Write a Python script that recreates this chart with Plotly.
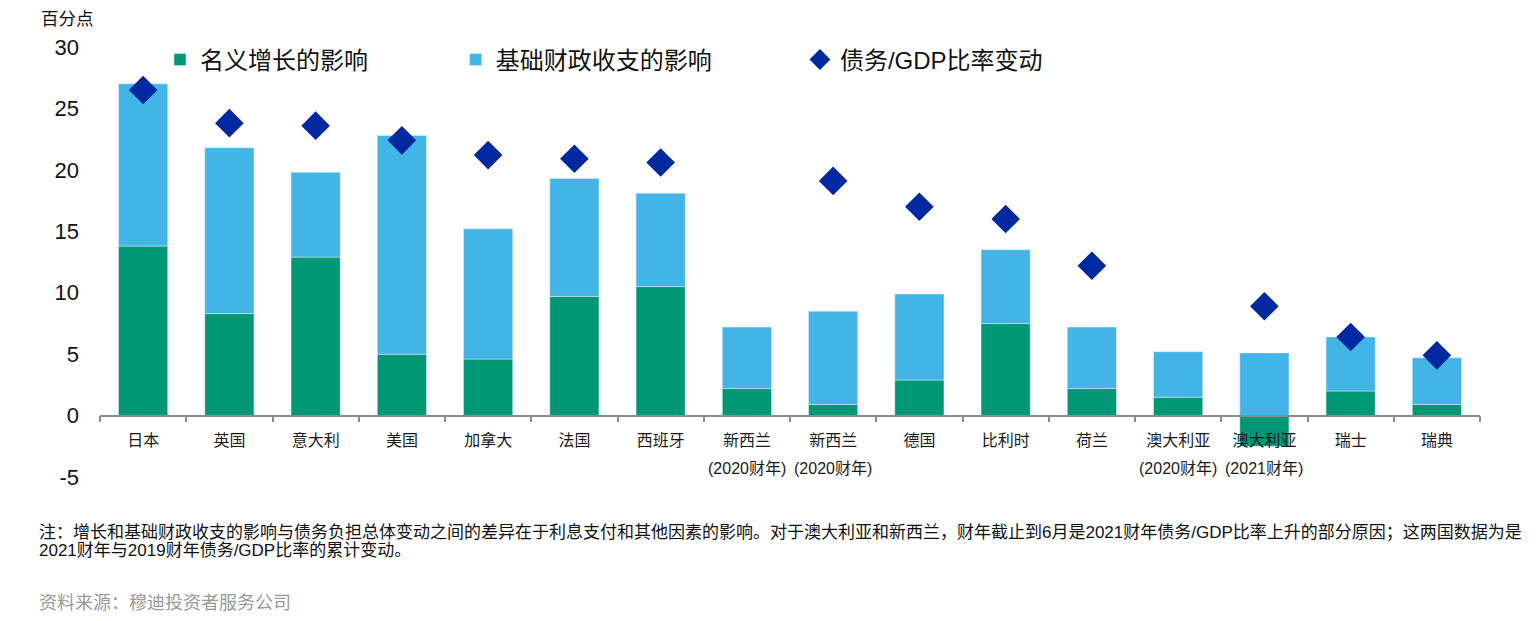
import plotly.graph_objects as go

# Countries (first label line) and the fiscal-year qualifier (second line)
countries = ['日本', '英国', '意大利', '美国', '加拿大', '法国', '西班牙',
             '新西兰', '新西兰', '德国', '比利时', '荷兰',
             '澳大利亚', '澳大利亚', '瑞士', '瑞典']
fiscal_years = ['', '', '', '', '', '', '',
                '(2020财年)', '(2020财年)', '', '', '',
                '(2020财年)', '(2021财年)', '', '']

# percentage points
growth_impact = [13.8, 8.3, 12.9, 5.0, 4.6, 9.7, 10.5, 2.2, 0.9, 2.9,
                 7.5, 2.2, 1.5, -2.5, 2.0, 0.9]
primary_impact = [13.2, 13.5, 6.9, 17.8, 10.6, 9.6, 7.6, 5.0, 7.6, 7.0,
                  6.0, 5.0, 3.7, 5.1, 4.4, 3.8]
debt_change = [26.5, 23.8, 23.6, 22.4, 21.2, 20.9, 20.6, None, 19.1, 17.0,
               16.0, 12.2, None, 8.9, 6.4, 4.9]

y_ticks = [-5, 0, 5, 10, 15, 20, 25, 30]

GREEN = '#009874'
BLUE = '#42B4E6'
NAVY = '#0028A0'
FONT = 'Liberation Sans, Arial, Noto Sans CJK SC, sans-serif'

pos = list(range(len(countries)))
y_min, y_max = y_ticks[0], y_ticks[-1]

fig = go.Figure()

fig.add_trace(go.Bar(
    x=pos, y=growth_impact, name='名义增长的影响',
    marker_color=GREEN, width=0.57, legend='legend'))
fig.add_trace(go.Bar(
    x=pos, y=primary_impact, name='基础财政收支的影响',
    marker_color=BLUE, width=0.57, legend='legend2'))
fig.add_trace(go.Scatter(
    x=pos, y=debt_change, mode='markers', name='债务/GDP比率变动',
    marker=dict(symbol='diamond', size=22, color=NAVY),
    legend='legend3'))

legend_style = dict(orientation='h', yanchor='middle', y=0.97,
                    xanchor='left', font=dict(size=24, color='#111'),
                    bgcolor='rgba(0,0,0,0)')

# second line of the two-line category labels
for p, fy in zip(pos, fiscal_years):
    if fy:
        fig.add_annotation(x=p, y=0, xref='x', yref='y', text=fy,
                           showarrow=False, yshift=-53, yanchor='middle',
                           font=dict(size=16, color='#1a1a1a'))

fig.add_annotation(x=-0.0445, y=1.064, xref='paper', yref='paper',
                   text='百分点', showarrow=False, xanchor='left',
                   yanchor='middle', font=dict(size=17.5, color='#111'))
fig.add_annotation(
    x=-0.046, y=-0.130, xref='paper', yref='paper', showarrow=False,
    xanchor='left', yanchor='middle', font=dict(size=17, color='#111'),
    text='注：增长和基础财政收支的影响与债务负担总体变动之间的差异在于利息支付和其他因素的影响。'
         '对于澳大利亚和新西兰，财年截止到6月是2021财年债务/GDP比率上升的部分原因；这两国数据为是')
fig.add_annotation(
    x=-0.046, y=-0.172, xref='paper', yref='paper', showarrow=False,
    xanchor='left', yanchor='middle', font=dict(size=17, color='#111'),
    text='2021财年与2019财年债务/GDP比率的累计变动。')
fig.add_annotation(
    x=-0.046, y=-0.293, xref='paper', yref='paper', showarrow=False,
    xanchor='left', yanchor='middle', font=dict(size=18, color='#999'),
    text='资料来源：穆迪投资者服务公司')

# page body has an 8px margin, so the figure is 8px smaller and margins shifted
fig.update_layout(
    width=1528, height=613,
    margin=dict(l=92, r=56, t=39, b=144),
    paper_bgcolor='white', plot_bgcolor='white',
    font=dict(family=FONT, color='#111'),
    barmode='relative',
    showlegend=True,
    legend=dict(legend_style, x=0.0435),
    legend2=dict(legend_style, x=0.2577),
    legend3=dict(legend_style, x=0.5072),
    xaxis=dict(
        range=[-0.5, len(pos) - 0.5], anchor='free',
        position=(0 - y_min) / (y_max - y_min),
        tickmode='array', tickvals=pos, ticktext=countries, ticks='',
        tickfont=dict(size=16, color='#1a1a1a'), ticklabelstandoff=10,
        showline=True, linecolor='#8c8c8c', linewidth=1.5,
        showgrid=False, zeroline=False,
        minor=dict(tickvals=[p - 0.5 for p in pos] + [pos[-1] + 0.5],
                   ticks='outside', ticklen=6, tickwidth=1.5,
                   tickcolor='#8c8c8c', showgrid=False)),
    yaxis=dict(
        range=[y_min, y_max], tickmode='array', tickvals=y_ticks,
        ticktext=[str(v) for v in y_ticks],
        tickfont=dict(size=22, color='#111'), ticklabelstandoff=20,
        showgrid=False, zeroline=False, showline=False),
)

fig.write_html('out.html')
